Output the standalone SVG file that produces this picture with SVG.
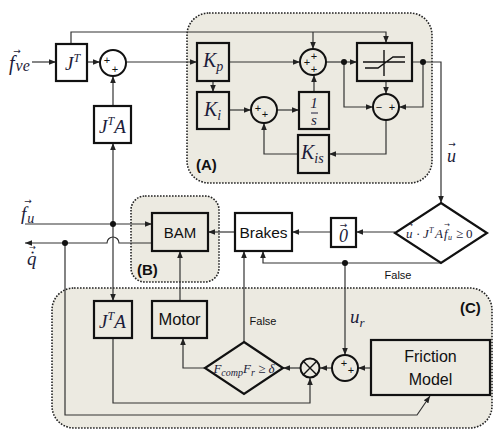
<svg xmlns="http://www.w3.org/2000/svg" width="500" height="439" viewBox="0 0 500 439">
<style>
.reg{fill:#ECEAE1;stroke:#222;stroke-width:1.6;stroke-dasharray:1.6 1.4}
.box{fill:#ECEAE1;stroke:#111;stroke-width:2.2}
.wbox{fill:#fff;stroke:#111;stroke-width:2.2}
.sum{fill:#ECEAE1;stroke:#111;stroke-width:2}
.wsum{fill:#fff;stroke:#111;stroke-width:2}
.ln{fill:none;stroke:#111;stroke-width:1.4}
.arr{fill:none;stroke:#333;stroke-width:1.2;marker-end:url(#ah)}
.dot{fill:#111}
.m{font-family:"Liberation Serif","DejaVu Serif",serif;font-style:italic;fill:#1c1c3a}
.va{font-family:"DejaVu Sans",sans-serif;fill:#1c1c3a;text-anchor:middle}
.s{font-family:"Liberation Sans",Arial,sans-serif;fill:#111}
.lab{font-family:"Liberation Sans",Arial,sans-serif;font-weight:bold;font-size:15px;fill:#111}
.pl{font-family:"Liberation Sans",Arial,sans-serif;font-size:11px;fill:#111;text-anchor:middle}
</style>
<defs>
<marker id="ah" viewBox="0 0 10 10" refX="10" refY="5" markerWidth="7" markerHeight="7" orient="auto" markerUnits="userSpaceOnUse">
<path d="M0,1 L10,5 L0,9 z" fill="#222"/>
</marker>
</defs>
<rect width="500" height="439" fill="#fff"/>

<g id="regionA"><rect class="reg" x="187" y="13" width="245" height="170" rx="22"/><text class="lab" x="196" y="170">(A)</text></g>
<g id="regionB"><rect class="reg" x="131" y="196" width="88" height="86" rx="14"/><text class="lab" x="137" y="275">(B)</text></g>
<g id="regionC"><rect class="reg" x="52" y="288" width="440" height="140" rx="22"/><text class="lab" x="460" y="313">(C)</text></g>

<g id="connectors">
<path class="arr" d="M32,62 H56"/>
<path class="arr" d="M87,62 H100"/>
<path class="arr" d="M126,62 H197"/>
<path class="arr" d="M113,106 V76"/>
<path class="arr" d="M71,44 V32 H386 V43"/>
<path class="arr" d="M313,32 V49"/>
<path class="arr" d="M213,81 V92"/>
<path class="arr" d="M229,62 H300"/>
<path class="arr" d="M229,110 H251"/>
<path class="arr" d="M277,110 H299"/>
<path class="arr" d="M314,92 V75"/>
<path class="arr" d="M326,62 H357"/>
<path class="arr" d="M344,62 V107 H373"/>
<path class="arr" d="M386,81 V94"/>
<path class="arr" d="M412,62 H441 V203"/>
<path class="arr" d="M423,62 V107 H399"/>
<path class="arr" d="M386,120 V154 H329"/>
<path class="arr" d="M298,154 H264 V123"/>
<path class="arr" d="M395,232 H356"/>
<path class="arr" d="M331,232 H292"/>
<path class="arr" d="M235,232 H208"/>
<path class="arr" d="M441,263 H263 V251"/>
<path class="arr" d="M345,263 V355"/>
<path class="arr" d="M25,224 H152"/>
<path class="arr" d="M113,224 V143"/>
<path class="arr" d="M113,224 V301"/>
<path class="arr" d="M152,243 H119 A6,6 0 0 0 107,243 H25"/>
<path class="arr" d="M65,243 V415 H417 L430,396"/>
<path class="arr" d="M113,338 V403 H310 V378"/>
<path class="arr" d="M371,368 H358"/>
<path class="arr" d="M332,368 H320"/>
<path class="arr" d="M300,368 H283"/>
<path class="arr" d="M205,368 H183 V338"/>
<path class="arr" d="M180,301 V251"/>
<path class="arr" d="M244,342 V251"/>
<circle class="dot" cx="344" cy="62" r="3"/>
<circle class="dot" cx="423" cy="62" r="3"/>
<circle class="dot" cx="345" cy="263" r="3"/>
<circle class="dot" cx="113" cy="224" r="3"/>
<circle class="dot" cx="65" cy="243" r="3"/>
<text class="pl" x="398" y="279">False</text>
<text class="pl" x="263" y="325">False</text>
<text class="m" x="447" y="162" font-size="18">u</text><text class="va" x="452" y="147" font-size="9">→</text>
<text class="m" x="350" y="323" font-size="19">u<tspan font-size="13" dy="4">r</tspan></text>
<text class="m" x="9" y="70" font-size="20">f<tspan font-size="16" dx="1" dy="1">ve</tspan></text><text class="va" x="17" y="54" font-size="9">→</text>
<text class="m" x="21" y="220" font-size="19">f<tspan font-size="14" dx="1" dy="3">u</tspan></text><text class="va" x="28" y="204" font-size="9">→</text>
<text class="m" x="27" y="265" font-size="19">q</text><text class="va" x="32.5" y="255" font-size="7">•</text><text class="va" x="32.5" y="250" font-size="8">→</text>
</g>

<g id="JT"><rect class="wbox" x="56" y="44" width="31" height="37"/><text class="m" x="65" y="70" font-size="19">J<tspan font-size="12" dy="-8">T</tspan></text></g>
<g id="sum1"><circle class="wsum" cx="113" cy="63" r="13"/><text class="pl" x="107" y="64">+</text><text class="pl" x="115" y="73">+</text></g>
<g id="JTA1"><rect class="wbox" x="94" y="106" width="37" height="37"/><text class="m" x="99" y="133" font-size="19">J<tspan font-size="12" dy="-8">T</tspan><tspan dy="8">A</tspan></text></g>
<g id="Kp"><rect class="box" x="197" y="43" width="32" height="38"/><text class="m" x="203" y="67" font-size="20">K<tspan font-size="14" dy="4">p</tspan></text></g>
<g id="Ki"><rect class="box" x="197" y="92" width="32" height="37"/><text class="m" x="204" y="116" font-size="20">K<tspan font-size="14" dy="4">i</tspan></text></g>
<g id="sum2"><circle class="sum" cx="264" cy="110" r="13"/><text class="pl" x="258" y="112">+</text><text class="pl" x="265" y="118">+</text></g>
<g id="integrator"><rect class="box" x="299" y="92" width="30" height="37"/><text class="m" x="314" y="108" font-size="15" text-anchor="middle" font-style="normal">1</text><line x1="311" y1="113" x2="318" y2="113" stroke="#1c1c3a" stroke-width="1"/><text class="m" x="314" y="125" font-size="15" text-anchor="middle">s</text></g>
<g id="sum3"><circle class="sum" cx="313" cy="62" r="13"/><text class="pl" x="314" y="60">+</text><text class="pl" x="307" y="66">+</text><text class="pl" x="314" y="73">+</text></g>
<g id="Kis"><rect class="box" x="298" y="135" width="31" height="38"/><text class="m" x="301" y="159" font-size="20">K<tspan font-size="14" dy="4">is</tspan></text></g>
<g id="saturation"><rect class="box" x="357" y="43" width="55" height="38"/><path class="ln" d="M363,62 H405 M384,50 V76 M365,68 H378 L393,57 H405"/></g>
<g id="sub"><circle class="sum" cx="386" cy="107" r="13"/><text class="pl" x="379" y="111" font-size="14">−</text><text class="pl" x="392" y="111" font-size="14">+</text></g>
<g id="BAM"><rect class="box" x="152" y="213" width="56" height="38"/><text class="s" x="180" y="238" font-size="15" text-anchor="middle">BAM</text></g>
<g id="Brakes"><rect class="wbox" x="235" y="213" width="57" height="38"/><text class="s" x="263.5" y="238" font-size="15.5" text-anchor="middle">Brakes</text></g>
<g id="zero"><rect class="wbox" x="331" y="218" width="25" height="29"/><text class="m" x="343.5" y="242" font-size="18" text-anchor="middle" font-style="normal">0</text><text class="va" x="343.5" y="228" font-size="9">→</text></g>
<g id="decision1"><path class="wbox" d="M441,203 L487,233 L441,263 L395,233 Z"/>
<text class="m" font-size="13">
<tspan x="406" y="238">u</tspan><tspan x="416" y="238" font-style="normal">·</tspan><tspan x="423" y="238">J</tspan><tspan x="429" y="233" font-size="8">T</tspan><tspan x="435" y="238">A</tspan><tspan x="444" y="238">f</tspan><tspan x="448" y="240" font-size="8">u</tspan><tspan x="456" y="238" font-style="normal">≥</tspan><tspan x="466" y="238" font-style="normal">0</tspan></text>
<text class="va" x="410" y="227" font-size="7">→</text><text class="va" x="447" y="227" font-size="7">→</text></g>
<g id="JTA2"><rect class="box" x="94" y="301" width="38" height="37"/><text class="m" x="99" y="328" font-size="19">J<tspan font-size="12" dy="-8">T</tspan><tspan dy="8">A</tspan></text></g>
<g id="Motor"><rect class="box" x="152" y="301" width="55" height="37"/><text class="s" x="179.5" y="325" font-size="16.5" text-anchor="middle">Motor</text></g>
<g id="decision2"><path class="box" d="M244,342 L283,368 L244,394 L205,368 Z"/><text class="m" x="244" y="373" font-size="13" text-anchor="middle">F<tspan font-size="10" dy="3">comp</tspan><tspan dy="-3">F</tspan><tspan font-size="10" dy="3">r</tspan><tspan dy="-3" font-style="normal"> ≥ </tspan>δ</text></g>
<g id="multiply"><circle class="sum" cx="310" cy="368" r="9.5"/><path d="M303.3,361.3 L316.7,374.7 M316.7,361.3 L303.3,374.7" stroke="#111" stroke-width="1.4"/></g>
<g id="sumC"><circle class="sum" cx="345" cy="368" r="13"/><text class="pl" x="344" y="367">+</text><text class="pl" x="351" y="374">+</text></g>
<g id="friction"><rect class="box" x="371" y="340" width="119" height="55"/><text class="s" x="430.5" y="362" font-size="16" text-anchor="middle">Friction</text><text class="s" x="430.5" y="385" font-size="16" text-anchor="middle">Model</text></g>
</svg>
